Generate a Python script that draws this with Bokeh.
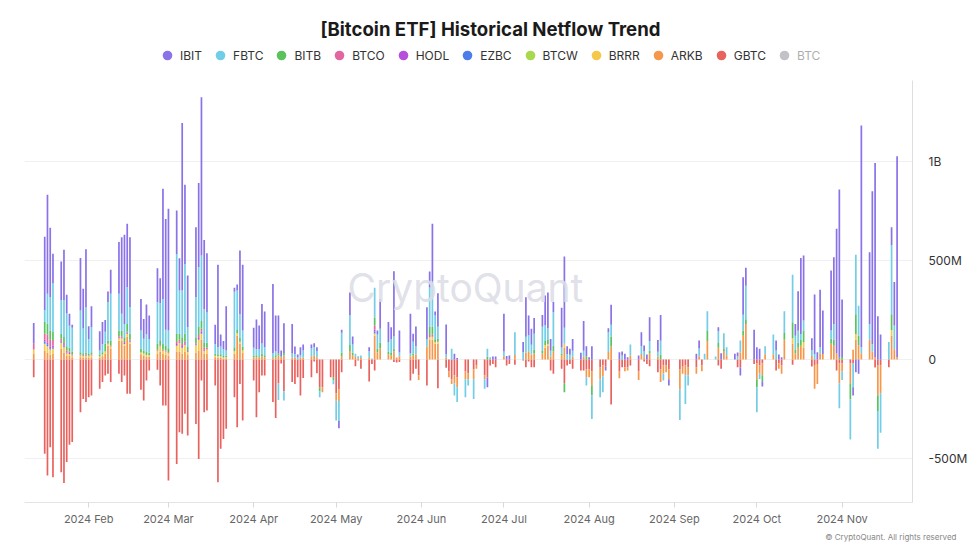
import numpy as np
import pandas as pd
from bokeh.plotting import figure
from bokeh.layouts import column
from bokeh.models import (ColumnDataSource, Range1d, FixedTicker, Legend, LegendItem,
                          DatetimeTickFormatter, MonthsTicker, Label, Title)
from bokeh.embed import file_html
from bokeh.resources import INLINE

# ---------------- data (daily netflow, USD millions) ----------------
holidays = ["2024-01-15", "2024-02-19", "2024-03-29", "2024-05-27",
            "2024-06-19", "2024-07-04", "2024-09-02"]
dates = pd.bdate_range("2024-01-12", "2024-11-21")
dates = dates[~dates.isin(pd.to_datetime(holidays))]

IBIT = [105,
        370, 500, 350, 150,
        195, 255, 95, 60, 15,
        266, 200, 294, 64, 106,
        98, 111, 60, 54, 121,
        261, 387, 450, 320, 353,
        160, 100, 150, 118,
        172, 126, 556, 560, 614,
        219, 163, 845, 400, 261,
        354, 424, 800, 350, 300,
        96, 416, 60, 40, 224,
        20, 30, 320, 332,
        100, 150, 120, 200, 180,
        350, 180, 190, 30, 150,
        150, 40, 15, 40, 30,
        20, 20, 20, 0, 0,
        0, 0, 0, -37, 15,
        115, 40, 0, 0, 0,
        20, 0, 0, 20, 150,
        100, 60, 330, 0, 110,
        200, 40, 100, 0,
        160, 80, 290, 20, 170,
        150, 0, 0, 29, 8,
        0, 0, 0, 0,
        0, -50, 0, 15, 15,
        190, 18, 20, 0,
        50, 200, 100, 80, 80,
        60, 150, 180, 60, 50,
        200, 360, 40, 30, 60,
        34, 150, 50, 12, 67,
        0, 0, -20, 20, 100,
        37, 20, 29, 12, 0,
        20, 70, 30, 25, 120,
        60, 130, 0, 0, -31,
        0, 0, 0, 0,
        29, 40, 0, 0, 0,
        0, 20, 32, 0, 0,
        29, 20, -41, 190, 90,
        150, 62, 54, -26, 0,
        0, 50, 25, 12, 0,
        0, 60, 200, 384, 328,
        60, 300, 37, 290, 219,
        303, 337, 630, 850, 290,
        0, -42, -64, -72, 1120,
        362, 771, 980, 219, 126,
        0, 90, 219, 1015]

FBTC = [0,
        60, 150, 170, 245,
        170, 185, 165, 110, 120,
        210, 125, 227, 76, 126,
        20, 42, 60, 194, 236,
        185, 84, 67, 185, 135,
        90, 60, 90, 70,
        210, 188, 227, 80, 90,
        404, 219, 236, 350, 100,
        202, 303, 330, 170, 152,
        50, 35, 40, 35, 25,
        280, 200, 120, 80,
        40, 30, 35, 50, 40,
        20, 20, -85, 0, -47,
        20, 16, 10, 12, 36,
        40, 40, 30, -30, 0,
        0, -20, -100, -100, 100,
        150, 40, 15, 10, 12,
        30, 5, 150, 70, 70,
        50, 70, 60, 0, 20,
        15, 60, 40, 0,
        40, 200, 230, 120, 60,
        15, 0, 54, -62, -75,
        -90, -31, -100, 0,
        -48, 40, 12, 0, 0,
        25, 0, 0, 115,
        38, 80, 80, 50, 80,
        120, 80, 60, 30, 170,
        30, 80, 27, 24, 30,
        0, 30, -41, 0, -120,
        -90, -80, 0, 100, 60,
        0, 20, 0, 0, 56,
        0, 40, 30, 0, 50,
        25, 70, -36, 0, 0,
        -155, 0, -144, -51,
        0, 40, 0, 29, 100,
        15, 60, 0, 80, 40,
        0, 15, 60, 80, 170,
        0, -126, -28, 0, 40,
        100, 46, 0, 0, 110,
        240, 70, 60, 30, 50,
        30, 28, 0, 30, 0,
        40, 80, 0, -126, -43,
        -204, -120, 300, 150, 30,
        80, 40, 0, -191, -200,
        88, 350, 120, 0]

BITB = [0,
        60, 55, 45, 40,
        25, 30, 22, 20, 15,
        12, 10, 12, 8, 12,
        10, 12, 40, 15, 25,
        30, 30, 25, 40, 30,
        20, 15, 15, 12,
        30, 25, 30, 25, 20,
        40, 30, 35, 40, 20,
        30, 40, 40, 25, 25,
        10, 10, 10, 8, 8,
        20, 15, 20, 20,
        8, 10, 7, 15, 10,
        5, 10, 12, 5, 13,
        0, 0, 0, 0, 0,
        0, 0, 0, -20, 0,
        0, -15, 0, 0, 20,
        30, 16, 0, 0, 0,
        0, 0, 40, 20, 30,
        14, 13, 16, 0, 0,
        0, 10, 0, 0,
        0, 40, 40, 15, 15,
        0, 0, 0, 0, 0,
        0, 0, 0, 0,
        0, 14, 0, 0, 0,
        0, 0, 0, 0,
        0, 0, 0, 0, 20,
        15, 20, 20, 0, 30,
        11, -45, 0, 0, 0,
        0, 0, 17, 0, -50,
        0, 0, 0, 0, 50,
        0, 0, 0, 0, 0,
        0, 0, 0, 0, 14,
        0, 25, 0, 0, 0,
        0, 0, 0, 0,
        0, 0, 0, 0, 50,
        0, 23, 0, 10, 0,
        0, 0, 0, 26, 23,
        0, -40, 0, -30, 0,
        0, 0, 0, 0, 34,
        80, 20, 25, 29, 60,
        0, 0, 0, 0, 0,
        26, 30, 0, 9, 13,
        -80, 0, 100, 50, 0,
        0, 0, 0, -80, 0,
        0, 80, 0, 0]

BTCO = [30,
        30, 40, 35, 30,
        10, 12, 10, 8, 5,
        5, 5, 5, 4, 5,
        0, 0, 0, 0, 5,
        5, 5, 5, 5, 5,
        0, 0, 0, 0,
        5, 5, 5, 5, 5,
        10, 10, 10, 10, 5,
        5, 15, 15, 10, 10,
        0, 0, 0, 0, 0,
        0, 0, 0, 0,
        0, 0, 0, 0, 0,
        0, 0, 0, 0, 0,
        0, 0, 0, 0, 0,
        0, 0, 0, 0, 0,
        0, 0, 0, 0, 0,
        0, 0, 0, 0, 0,
        0, 0, 20, 0, 0,
        0, 0, 0, 0, 0,
        0, 0, 0, 0,
        0, 10, 10, 0, 0,
        0, 0, 0, 0, 0,
        0, 0, 0, 0,
        0, 0, 0, 0, 0,
        0, 0, 0, 0,
        0, 0, 0, 0, 0,
        0, 0, 0, 0, 0,
        0, 0, 0, 0, 0,
        0, 0, 0, 0, 0,
        0, 0, 0, 0, 0,
        0, 0, 0, 0, 0,
        0, 0, 0, 0, 0,
        0, 0, 0, 0, 0,
        0, 0, 0, 0,
        0, 0, 0, 0, 0,
        0, 0, 0, 0, 0,
        0, 0, 0, 0, 0,
        0, 0, 0, 0, 0,
        0, 0, 0, 0, 0,
        0, 0, 0, 0, 0,
        0, 0, 0, 0, 0,
        0, 0, 0, 0, 0,
        0, 0, 0, 0, 0,
        0, 0, 0, 0, 0,
        0, 0, 0, 0]

HODL = [0,
        10, 10, 8, 10,
        5, 5, 5, 5, 0,
        0, 0, 0, 0, 0,
        0, 0, 0, 0, 0,
        5, 5, 5, 5, 5,
        0, 0, 0, 0,
        0, 0, 0, 0, 0,
        10, 5, 8, 7, 0,
        5, 9, 10, 5, 0,
        0, 0, 0, 0, 0,
        0, 0, 0, 0,
        0, 0, 0, 0, 0,
        0, 0, 0, 0, 0,
        0, 0, 0, 0, 0,
        0, 0, 0, 0, 0,
        0, 0, 0, 0, 0,
        0, 0, 0, 0, 0,
        0, 0, 10, 0, 0,
        0, 0, 0, 0, 0,
        0, 0, 0, 0,
        0, 0, 0, 0, 0,
        0, 0, 0, 0, 0,
        0, 0, 0, 0,
        0, 0, 0, 0, 0,
        0, 0, 0, 0,
        0, 0, 0, 0, 0,
        0, 0, 0, 0, 0,
        0, 0, 0, 0, 0,
        0, 0, 0, 0, 0,
        0, 0, 0, 0, 0,
        0, 0, 0, 0, 0,
        0, 0, 0, 0, 0,
        0, 0, 0, 0, 0,
        0, 0, 0, 0,
        0, 0, 0, 0, 0,
        0, 0, 0, 0, 0,
        0, 0, 0, 0, 0,
        0, 0, 0, 0, 0,
        0, 0, 0, 0, 0,
        0, 0, 0, 0, 0,
        0, 0, 0, 0, 0,
        0, 0, 0, 0, 0,
        0, 0, 0, 0, 0,
        0, 0, 0, 0, 0,
        0, 0, 0, 0]

EZBC = [0,
        10, 10, 7, 5,
        5, 5, 0, 0, 0,
        0, 0, 0, 0, 0,
        0, 0, 0, 0, 0,
        0, 0, 0, 0, 0,
        0, 0, 0, 0,
        0, 0, 0, 0, 0,
        0, 0, 0, 0, 0,
        0, 0, 0, 0, 0,
        0, 0, 0, 0, 0,
        0, 0, 0, 0,
        0, 0, 0, 0, 0,
        0, 0, 0, 0, 0,
        0, 0, 0, 0, 0,
        0, 0, 0, 0, 0,
        0, 0, 0, 0, 0,
        0, 0, 0, 0, 0,
        0, 0, 10, 0, 0,
        0, 0, 0, 0, 0,
        0, 0, 0, 0,
        0, 0, 0, 0, 0,
        0, 0, 0, 0, 0,
        0, 0, 0, 0,
        0, 0, 0, 0, 0,
        0, 0, 0, 0,
        0, 0, 0, 0, 0,
        0, 0, 0, 0, 0,
        0, 0, 0, 0, 0,
        0, 0, 0, 0, 0,
        0, 0, 0, 0, 0,
        0, 0, 0, 0, 0,
        0, 0, 0, 0, 0,
        0, 0, 0, 0, 0,
        0, 0, 0, 0,
        0, 0, 0, 0, 0,
        0, 0, 0, 0, 0,
        0, 0, 0, 0, 0,
        0, 0, 0, 0, 0,
        0, 0, 0, 0, 0,
        0, 0, 0, 0, 0,
        0, 0, 0, 0, 0,
        0, 0, 0, 0, 0,
        0, 0, 0, 0, 0,
        0, 0, 0, 0, 0,
        0, 0, 0, 0]

BTCW = [0,
        0, 2, 0, 0,
        0, 0, 0, 0, 0,
        0, 0, 0, 0, 0,
        0, 0, 0, 0, 0,
        0, 0, 0, 0, 0,
        0, 0, 0, 0,
        0, 0, 0, 0, 0,
        0, 0, 0, 0, 0,
        0, 0, 0, 0, 0,
        0, 0, 0, 0, 0,
        0, 0, 0, 0,
        0, 0, 0, 0, 0,
        0, 0, 0, 0, 0,
        0, 0, 0, 0, 0,
        0, 0, 0, 0, 0,
        0, 0, 0, 0, 0,
        0, 0, 0, 0, 0,
        0, 0, 0, 0, 0,
        0, 0, 0, 0, 0,
        0, 0, 0, 0,
        0, 0, 0, 0, 0,
        0, 0, 0, 0, 0,
        0, 0, 0, 0,
        0, 0, 0, 0, 0,
        0, 0, 0, 0,
        0, 0, 0, 0, 0,
        0, 0, 0, 0, 0,
        0, 0, 0, 0, 0,
        0, 0, 0, 0, 0,
        0, 0, 0, 0, 0,
        0, 0, 0, 0, 0,
        0, 0, 0, 0, 0,
        0, 0, 0, 0, 0,
        0, 0, 0, 0,
        0, 0, 0, 0, 0,
        0, 0, 0, 0, 0,
        0, 0, 0, 0, 0,
        0, 0, 0, 0, 0,
        0, 0, 0, 0, 0,
        0, 0, 0, 0, 0,
        0, 0, 0, 0, 0,
        0, 0, 0, 0, 0,
        0, 0, 0, 0, 0,
        0, 0, 0, 0, 0,
        0, 0, 0, 0]

BRRR = [20,
        35, 30, 25, 24,
        30, 27, 12, 10, 8,
        8, 7, 8, 6, 8,
        5, 8, 10, 10, 10,
        12, 12, 8, 15, 10,
        10, 10, 8, 8,
        14, 27, 14, 15, 12,
        29, 45, 30, 35, 15,
        37, 55, 30, 14, 20,
        8, 7, 6, 5, 5,
        12, 14, 10, 10,
        0, 0, 0, 0, 0,
        0, 0, 0, 0, 0,
        0, 0, 0, 0, 0,
        0, 0, 0, 0, 0,
        0, 0, 0, 0, 0,
        0, 0, 0, 0, 0,
        0, 0, 12, 0, 0,
        0, 0, 0, 0, 0,
        0, 0, 0, 0,
        0, 14, 15, 7, 10,
        0, 0, 0, 0, 0,
        0, 0, 0, 0,
        0, 0, 0, 0, 0,
        0, 0, 0, 0,
        0, 0, 0, 0, 0,
        0, 13, 8, 0, 0,
        0, 20, 0, 0, 0,
        0, 0, 0, 0, 0,
        0, 0, 0, 0, 0,
        0, 0, 0, 0, 0,
        0, 0, 0, 0, 0,
        0, 0, 0, 0, 0,
        0, 0, 0, 0,
        0, 0, 0, 0, 0,
        0, 0, 0, 0, 0,
        0, 0, 0, 0, 0,
        0, 0, 0, 0, 0,
        0, 0, 0, 0, 0,
        28, 0, 0, 0, 27,
        0, 0, 0, 0, 0,
        0, 0, 0, 0, 0,
        0, 0, 29, 0, 0,
        0, 0, 0, 0, 0,
        0, 28, 0, 0]

ARKB = [30,
        45, 35, 25, 30,
        55, 35, 18, 18, 12,
        12, 10, 11, 10, 12,
        10, 17, 30, 70, 56,
        95, 95, 70, 115, 80,
        26, 20, 15, 14,
        30, 40, 30, 25, 20,
        40, 40, 30, 40, 23,
        35, 45, 100, 30, 30,
        11, 10, 10, 5, 7,
        30, 120, 80, 36,
        12, 12, 10, 16, 12,
        7, 12, 20, 10, 20,
        10, 10, 0, 10, 10,
        16, 22, 12, 0, -25,
        0, 0, -38, -60, 15,
        43, 20, 14, 7, 8,
        12, 0, 120, 36, 56,
        25, 20, 40, 10, 16,
        16, 20, 27, -23,
        64, 100, 100, 80, 80,
        12, -29, -23, -40, -50,
        -40, -30, -49, -17,
        -20, 0, 0, 0, 0,
        16, 0, 0, 23,
        0, 35, 42, 25, 30,
        30, 60, 70, 14, 40,
        20, 60, 0, 0, 14,
        0, 14, -40, -39, -70,
        -60, -55, 0, 38, 66,
        -34, 0, -19, -16, 20,
        -43, 28, 11, 0, 30,
        14, -64, -40, -34, -50,
        -100, -35, -50, -40,
        -32, 16, -29, 0, 94,
        0, 60, 0, 43, 22,
        0, 0, 36, 120, 180,
        0, -80, -40, -60, 27,
        26, 0, -27, -42, 100,
        80, 30, 60, 70, 60,
        18, -120, -100, 32, 28,
        80, 70, 30, -100, -40,
        -100, 49, 100, 71, 32,
        100, 39, 12, -150, -140,
        0, 120, 52, 12]

GBTC = [-89,
        -476, -586, -443, -594,
        -569, -623, -518, -431, -417,
        -266, -199, -215, -190, -182,
        -148, -114, -81, -72, -114,
        -72, -114, -81, -173, -173,
        -153, -207, -106, -56,
        -52, -131, -232, -232, -611,
        -527, -367, -375, -274, -384,
        -325, -502, -106, -266, -258,
        -131, -620, -451, -401, -350,
        -190, -342, -123, -308,
        -106, -291, -165, -81, -81,
        -215, -295, -120, -20, -160,
        -114, -123, -89, -182, -93,
        -89, -10, -69, -140, -140,
        -89, -90, -170, -150, -64,
        0, 0, -34, -5, -47,
        -111, -22, -56, 0, 0,
        0, 0, -13, -15, -13,
        -106, -72, -47, -80,
        -131, 0, 0, 0, -145,
        -42, -60, -100, -80, -90,
        -60, -70, -50, -30,
        -80, -90, -30, -22, -39,
        0, -30, -22, -27,
        -5, -39, -10, -39, -39,
        0, 0, 0, -56, -72,
        -47, -120, -30, -22, -47,
        -56, -56, -50, -50, -60,
        -40, -30, -36, 0, -227,
        -60, -39, -40, -40, -30,
        -60, 0, -10, -22, -34,
        -64, -50, -30, -30, -50,
        -50, -37, -30, -40,
        -40, 0, -30, 0, 0,
        0, -30, -47, 0, 0,
        0, -39, -40, 0, 0,
        -22, -20, -30, -20, 0,
        0, -56, -20, -30, 0,
        -27, 0, 0, 0, 0,
        -35, -28, -23, 0, 0,
        0, 0, -56, -20, -20,
        -20, -20, 0, 0, 0,
        0, 0, -40, -30, -30,
        -39, 0, 0, 0]

legend_names = ["IBIT", "FBTC", "BITB", "BTCO", "HODL", "EZBC", "BTCW", "BRRR", "ARKB", "GBTC", "BTC"]
colors = {"IBIT": "#8a72e8", "FBTC": "#72cde6", "BITB": "#5cc25e", "BTCO": "#e0679f",
          "HODL": "#b54fdc", "EZBC": "#4d7de8", "BTCW": "#a8d84c", "BRRR": "#f4c84a",
          "ARKB": "#f5984c", "GBTC": "#e8635f", "BTC": "#666874"}
series = {"IBIT": IBIT, "FBTC": FBTC, "BITB": BITB, "BTCO": BTCO, "HODL": HODL,
          "EZBC": EZBC, "BTCW": BTCW, "BRRR": BRRR, "ARKB": ARKB, "GBTC": GBTC}
stack_order = ["GBTC", "ARKB", "BRRR", "BTCW", "EZBC", "HODL", "BTCO", "BITB", "FBTC", "IBIT"]

FONT = "Inter"
W = 980
HH = 80            # header (title + legend)
H = 471            # chart
ML, MR, MT, MB = 24, 68, 0, 49
FW, FH = W - ML - MR, H - MT - MB

# ---------------- header figure: title + legend ----------------
hdr = figure(width=W, height=HH, output_backend="svg", toolbar_location=None,
             x_range=Range1d(0, 1), y_range=Range1d(0, 1), min_border=0,
             x_axis_type=None, y_axis_type=None)
hdr.outline_line_color = None
hdr.xgrid.grid_line_color = None
hdr.ygrid.grid_line_color = None
hdr.add_layout(Label(x=W / 2 - 24, y=HH - 28, x_units="screen", y_units="screen",
                     text="[Bitcoin ETF] Historical Netflow Trend", text_align="center",
                     text_baseline="middle", text_font=FONT, text_font_size="18.6px",
                     text_font_style="bold", text_color="#1a1a1a"))
items = []
for name in legend_names:
    dsrc = ColumnDataSource(dict(x=[0.5], y=[np.nan]))
    r = hdr.scatter(x="x", y="y", source=dsrc, marker="circle", size=10,
                    fill_color=colors[name], line_color=None)
    if name == "BTC":
        r.visible = False
    items.append(LegendItem(label=name, renderers=[r]))
legend = Legend(items=items, orientation="horizontal", location=(131, 13),
                click_policy="hide", border_line_color=None, background_fill_alpha=0,
                label_text_font=FONT, label_text_font_size="12px", label_text_color="#333333",
                glyph_width=24, glyph_height=24, label_standoff=1, spacing=6,
                padding=0, margin=0, inactive_fill_color="white", inactive_fill_alpha=0.6)
hdr.add_layout(legend, "center")

# ---------------- main chart ----------------
p = figure(width=W, height=H, x_axis_type="datetime", y_axis_location="right",
           output_backend="svg", toolbar_location=None, title=None,
           x_range=Range1d(pd.Timestamp("2024-01-08 15:30"), pd.Timestamp("2024-11-26 14:30")),
           y_range=Range1d(-722e6, 1409e6),
           min_border_left=ML, min_border_right=MR, min_border_top=MT, min_border_bottom=MB)
p.outline_line_color = None
p.background_fill_color = "white"
p.border_fill_color = "white"

# watermark
p.add_layout(Label(x=pd.Timestamp("2024-06-17"), y=364e6, text="CryptoQuant",
                   text_align="center", text_baseline="middle", text_font=FONT,
                   text_font_size="39px", text_color="#dcdde6", text_alpha=0.9))

n = len(dates)
bar_w = 0.62 * 24 * 3600 * 1000
pos_base = np.zeros(n)
neg_base = np.zeros(n)
for name in stack_order:
    v = np.asarray(series[name], dtype=float) * 1e6
    assert len(v) == n, (name, len(v), n)
    pos = np.where(v > 0, v, 0.0)
    neg = np.where(v < 0, v, 0.0)
    bottom = np.where(v >= 0, pos_base, neg_base)
    top = np.where(v >= 0, pos_base + pos, neg_base + neg)
    pos_base = pos_base + pos
    neg_base = neg_base + neg
    src = ColumnDataSource(dict(x=dates.values, bottom=bottom, top=top))
    p.vbar(x="x", bottom="bottom", top="top", width=bar_w, source=src,
           fill_color=colors[name], line_color=None)

# axes
p.yaxis.ticker = FixedTicker(ticks=[-500e6, 0, 500e6, 1000e6])
p.yaxis.major_label_overrides = {-500000000: "-500M", 0: "0", 500000000: "500M", 1000000000: "1B"}
p.yaxis.axis_line_color = "#dedede"
p.yaxis.major_tick_line_color = None
p.yaxis.minor_tick_line_color = None
p.yaxis.major_label_text_font = FONT
p.yaxis.major_label_text_font_size = "12px"
p.yaxis.major_label_text_color = "#333333"
p.yaxis.major_label_standoff = 10

p.xaxis.ticker = MonthsTicker(months=list(range(12)))
p.xaxis.formatter = DatetimeTickFormatter(days="%Y %b", months="%Y %b", years="%Y %b")
p.xaxis.axis_line_color = "#e4e4e4"
p.xaxis.major_tick_line_color = "#d8d8d8"
p.xaxis.major_tick_out = 5
p.xaxis.major_tick_in = 0
p.xaxis.minor_tick_line_color = None
p.xaxis.major_label_text_font = FONT
p.xaxis.major_label_text_font_size = "11px"
p.xaxis.major_label_text_color = "#666666"
p.xaxis.major_label_standoff = 4

p.xgrid.grid_line_color = None
p.ygrid.grid_line_color = "#f0f0f0"

p.add_layout(Title(text="© CryptoQuant. All rights reserved", align="right",
                   text_font=FONT, text_font_size="8px", text_font_style="normal",
                   text_color="#888888", offset=-44, standoff=3), "below")

layout = column(hdr, p, spacing=0)
open("out.html", "w").write(file_html(layout, INLINE))
